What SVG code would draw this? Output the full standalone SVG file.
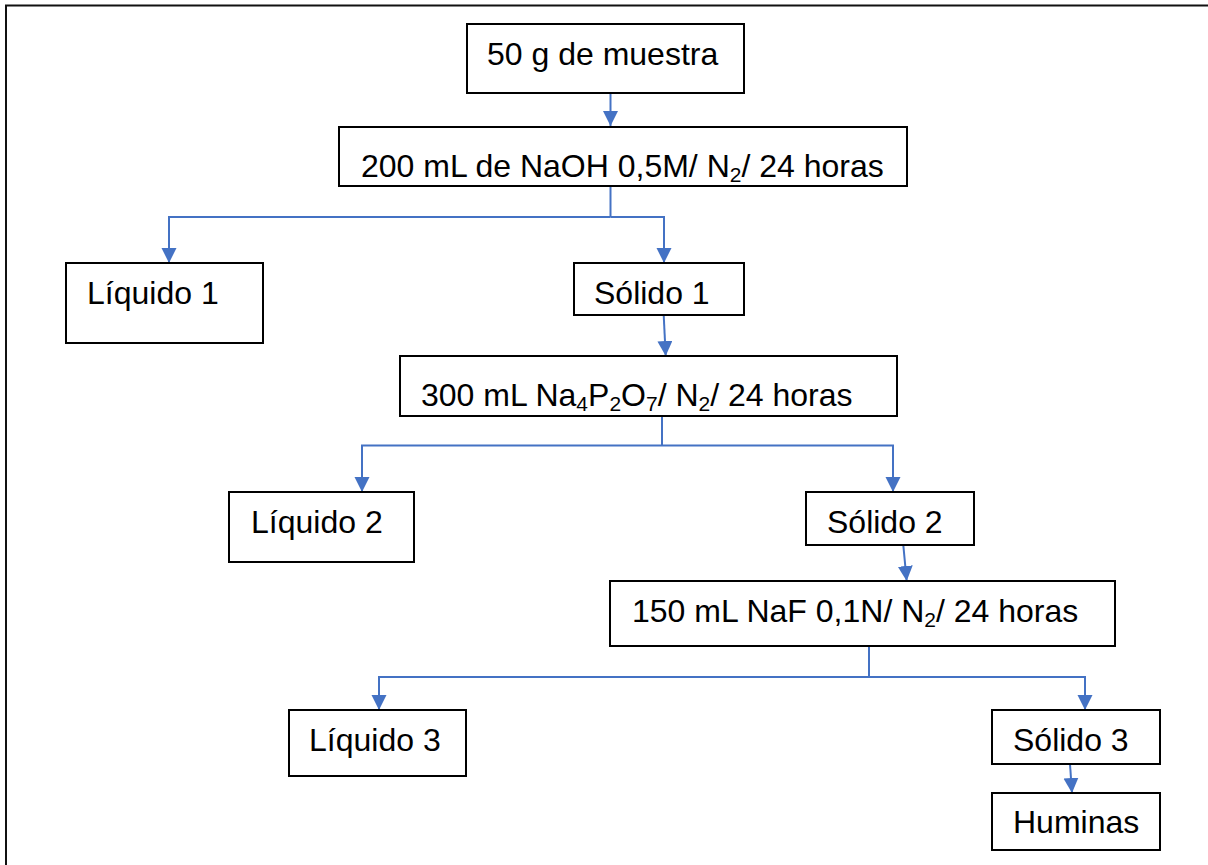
<svg xmlns="http://www.w3.org/2000/svg" width="1208" height="865" viewBox="0 0 1208 865">
<defs>
<style>
.box{fill:#fff;stroke:#000;stroke-width:2}
.t{font-family:"Liberation Sans",Arial,sans-serif;font-size:32px;fill:#000}
.sub{font-size:21px}
.c{fill:none;stroke:#4472C4;stroke-width:2}
.frame{fill:none;stroke:#111;stroke-width:2}
</style>
<marker id="ah" markerUnits="userSpaceOnUse" markerWidth="16" markerHeight="16" viewBox="0 0 16 16" refX="15" refY="7.5" orient="auto">
<path d="M0,0 L15,7.5 L0,15 z" fill="#4472C4"/>
</marker>
</defs>
<rect width="1208" height="865" fill="#fff"/>
<path class="frame" d="M6,865 V5.5 H1208"/>
<g id="connectors">
<path class="c" d="M610.5,93 V126" marker-end="url(#ah)"/>
<path class="c" d="M610.5,186 V217"/>
<path class="c" d="M610.5,217 H169 V263" marker-end="url(#ah)"/>
<path class="c" d="M610.5,217 H664 V263" marker-end="url(#ah)"/>
<path class="c" d="M663.7,315 L665.7,356" marker-end="url(#ah)"/>
<path class="c" d="M662,416 V445.5"/>
<path class="c" d="M662,445.5 H362 V492" marker-end="url(#ah)"/>
<path class="c" d="M662,445.5 H893 V492" marker-end="url(#ah)"/>
<path class="c" d="M903.3,545 L906.7,581" marker-end="url(#ah)"/>
<path class="c" d="M869,646 V677"/>
<path class="c" d="M869,677 H379 V710" marker-end="url(#ah)"/>
<path class="c" d="M869,677 H1085 V710" marker-end="url(#ah)"/>
<path class="c" d="M1070,764 L1072,793" marker-end="url(#ah)"/>
</g>
<g id="n1"><rect class="box" x="467" y="24" width="277" height="69"/><text class="t" x="487" y="65">50 g de muestra</text></g>
<g id="n2"><rect class="box" x="339" y="127" width="568" height="59"/><text class="t" x="361" y="177">200 mL de NaOH 0,5M/ N<tspan class="sub" dy="5">2</tspan><tspan dy="-5">/ 24 horas</tspan></text></g>
<g id="n3"><rect class="box" x="66" y="263" width="197" height="80"/><text class="t" x="87" y="304">Líquido 1</text></g>
<g id="n4"><rect class="box" x="574" y="263" width="170" height="52"/><text class="t" x="594" y="304">Sólido 1</text></g>
<g id="n5"><rect class="box" x="400" y="356" width="497" height="60"/><text class="t" x="421" y="406">300 mL Na<tspan class="sub" dy="5">4</tspan><tspan dy="-5">P</tspan><tspan class="sub" dy="5">2</tspan><tspan dy="-5">O</tspan><tspan class="sub" dy="5">7</tspan><tspan dy="-5">/ N</tspan><tspan class="sub" dy="5">2</tspan><tspan dy="-5">/ 24 horas</tspan></text></g>
<g id="n6"><rect class="box" x="229" y="492" width="185" height="70"/><text class="t" x="251" y="533">Líquido 2</text></g>
<g id="n7"><rect class="box" x="806" y="492" width="168" height="53"/><text class="t" x="827" y="533">Sólido 2</text></g>
<g id="n8"><rect class="box" x="610" y="581" width="505" height="65"/><text class="t" x="632" y="622">150 mL NaF 0,1N/ N<tspan class="sub" dy="5">2</tspan><tspan dy="-5">/ 24 horas</tspan></text></g>
<g id="n9"><rect class="box" x="289" y="710" width="177" height="66"/><text class="t" x="309" y="751">Líquido 3</text></g>
<g id="n10"><rect class="box" x="992" y="710" width="168" height="54"/><text class="t" x="1013" y="751">Sólido 3</text></g>
<g id="n11"><rect class="box" x="992" y="793" width="168" height="57"/><text class="t" x="1013" y="833">Huminas</text></g>
</svg>
